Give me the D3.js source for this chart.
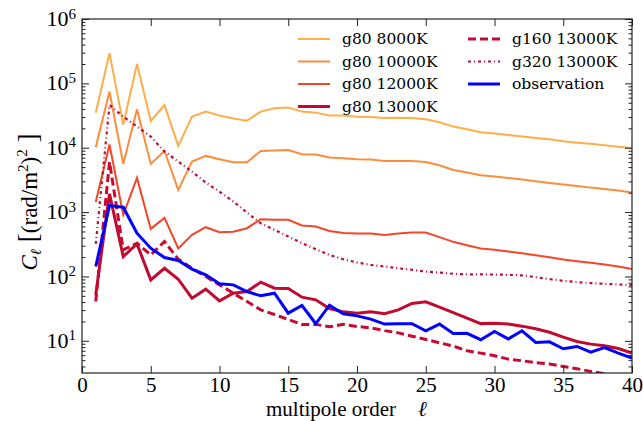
<!DOCTYPE html>
<html>
<head>
<meta charset="utf-8">
<script src="https://cdn.jsdelivr.net/npm/d3@7"></script>
<style>
  body { margin: 0; background: #fff; }
  text { fill: #000; }
</style>
</head>
<body>
<svg id="chart" width="643" height="421"></svg>
<script>
// multipole order l = 1..40
const ell = d3.range(1, 41);

const g80_8000K = [35000, 293000, 22900, 200000, 26000, 46000, 10700, 30400, 36400, 31600,
  28400, 26300, 36400, 41000, 42000, 36400, 35100, 31600, 31600, 30400,
  30000, 29000, 29300, 29000, 27700, 24900, 21300, 19400, 17400, 16600,
  15800, 14900, 14200, 13500, 12600, 12000, 11500, 10900, 10400, 9930];
const g80_10000K = [10200, 74500, 5600, 39600, 5600, 8900, 2210, 6100, 7460, 6630,
  5950, 5950, 8900, 9020, 9240, 7920, 7820, 7030, 6860, 6620,
  6540, 6240, 6240, 6240, 6020, 5340, 4520, 4110, 3740, 3570,
  3400, 3200, 3020, 2840, 2680, 2550, 2400, 2290, 2160, 2010];
const g80_12000K = [1440, 11200, 905, 3400, 548, 813, 272, 443, 582, 486,
  496, 562, 776, 757, 757, 618, 596, 510, 475, 464,
  464, 442, 464, 481, 481, 408, 345, 305, 271, 259,
  244, 230, 214, 199, 183, 173, 163, 153, 143, 130];
const g80_13000K = [51.8, 1920, 204, 321, 88.5, 134, 90.6, 46, 63.4, 41.8,
  55, 58.3, 81.5, 65.8, 65, 47.6, 43.3, 31.8, 28.2, 26.9,
  28.2, 26.3, 30.3, 38.0, 40.3, 33.3, 27.5, 22.5, 18.5, 18.8,
  18.3, 16.9, 15.4, 13.6, 11.4, 9.77, 8.88, 8.36, 7.60, 6.43];
const g160_13000K = [40.8, 6000, 259, 329, 216, 349, 185, 134, 99.7, 74,
  55, 40.8, 30.3, 25.6, 21.5, 18.0, 18.0, 16.5, 18.0, 16.7,
  15.9, 14.4, 13.3, 11.8, 10.5, 9.3, 8.3, 7.0, 6.44, 5.85,
  5.2, 4.9, 4.6, 4.35, 4.0, 3.68, 3.35, 3.08, 2.85, 2.6];
const g320_13000K = [320, 46200, 30400, 21300, 14900, 8710, 6100, 4260, 2870, 2080,
  1460, 984, 671, 530, 417, 329, 265, 216, 185, 165,
  151, 143, 134, 127, 119, 115, 110, 108, 108, 107,
  106, 104, 97.5, 90.8, 85.6, 81.6, 78.8, 76.9, 75.1, 73.4];
const observation = [143, 1260, 1190, 470, 275, 197, 177, 130, 106, 76.8,
  74, 58.3, 50, 55, 26.9, 35.4, 18.4, 35.8, 26.3, 24.4,
  21.7, 18.2, 18.4, 18.4, 14.3, 18.2, 13.0, 13.1, 10.4, 14.0,
  10.7, 14.3, 9.42, 9.64, 7.52, 8.17, 6.67, 7.87, 6.44, 5.38];

const xTicks = [0, 5, 10, 15, 20, 25, 30, 35, 40];
const yExponents = [1, 2, 3, 4, 5, 6];

const series = [
  {name: 'g80 8000K', values: g80_8000K, color: '#feae4a', width: 2, dash: null},
  {name: 'g80 10000K', values: g80_10000K, color: '#fd8c3c', width: 2, dash: null},
  {name: 'g80 12000K', values: g80_12000K, color: '#f4462a', width: 2, dash: null},
  {name: 'g80 13000K', values: g80_13000K, color: '#c00a30', width: 3, dash: null},
  {name: 'g160 13000K', values: g160_13000K, color: '#c80a30', width: 3, dash: '8,4'},
  {name: 'g320 13000K', values: g320_13000K, color: '#c80a30', width: 2.2, dash: '3,3,1,3'},
  {name: 'observation', values: observation, color: '#0000ff', width: 3, dash: null}
];

const margin = {top: 19, right: 11, bottom: 48, left: 82};
const width = 643 - margin.left - margin.right,
    height = 421 - margin.top - margin.bottom;

const svg = d3.select('#chart');
const g = svg.append('g').attr('transform', `translate(${margin.left},${margin.top})`);

const x = d3.scaleLinear().domain([0, 40]).range([0, width]);
const y = d3.scaleLog().domain([Math.pow(10, 0.5), 1e6]).range([height, 0]);

// minor log ticks
const minor = [];
for (let d = 0; d < 6; d++) {
  for (let k = 2; k <= 9; k++) {
    const v = k * Math.pow(10, d);
    if (v >= y.domain()[0] && v <= 1e6) minor.push(v);
  }
}
const majors = yExponents.map(e => Math.pow(10, e));

const serif = '"Liberation Serif", "Times New Roman", serif';

// data lines
g.append('clipPath').attr('id', 'clip')
  .append('rect').attr('width', width).attr('height', height);

const line = d3.line()
  .x((d, i) => x(ell[i]))
  .y(d => y(d));

g.append('g').attr('clip-path', 'url(#clip)')
  .selectAll('path')
  .data(series)
  .join('path')
  .attr('d', s => line(s.values))
  .attr('fill', 'none')
  .attr('stroke', s => s.color)
  .attr('stroke-width', s => s.width)
  .attr('stroke-dasharray', s => s.dash)
  .attr('stroke-linejoin', 'miter');

// axes, ticks pointing inward on all four sides
function styleAxis(sel) {
  sel.select('.domain').remove();
  sel.selectAll('line').attr('stroke', '#222');
}

g.append('g').attr('transform', `translate(0,${height})`)
  .call(d3.axisBottom(x).tickValues(xTicks).tickSize(-7).tickPadding(4))
  .call(styleAxis)
  .selectAll('text')
  .style('font-family', serif).style('font-size', '21px').attr('fill', '#000');

g.append('g')
  .call(d3.axisTop(x).tickValues(xTicks).tickSize(-7).tickFormat(''))
  .call(styleAxis);

const yLeft = g.append('g')
  .call(d3.axisLeft(y).tickValues(majors).tickSize(-7).tickPadding(6).tickFormat(''))
  .call(styleAxis);

yLeft.selectAll('.tick text')
  .style('font-family', serif).style('font-size', '22px').attr('fill', '#000')
  .attr('dy', '0.3em')
  .each(function(d) {
    const t = d3.select(this);
    t.append('tspan').text('10');
    t.append('tspan').attr('dy', '-0.5em').style('font-size', '15px').text(Math.round(Math.log10(d)));
  });

g.append('g')
  .call(d3.axisLeft(y).tickValues(minor).tickSize(-3.5).tickFormat(''))
  .call(styleAxis);

g.append('g').attr('transform', `translate(${width},0)`)
  .call(d3.axisRight(y).tickValues(majors).tickSize(-7).tickFormat(''))
  .call(styleAxis);

g.append('g').attr('transform', `translate(${width},0)`)
  .call(d3.axisRight(y).tickValues(minor).tickSize(-3.5).tickFormat(''))
  .call(styleAxis);

// frame
g.append('rect')
  .attr('width', width).attr('height', height)
  .attr('fill', 'none').attr('stroke', '#222').attr('stroke-width', 1.2);

// x label
const xl = svg.append('text')
  .attr('x', 266).attr('y', 416)
  .style('font-family', serif).style('font-size', '21px');
xl.append('tspan').text('multipole order');
xl.append('tspan').attr('dx', 22).style('font-style', 'italic').text('ℓ');

// y label
const yl = svg.append('text')
  .attr('transform', `translate(37,${margin.top + height / 2 + 6}) rotate(-90)`)
  .attr('text-anchor', 'middle')
  .style('font-family', serif).style('font-size', '23px');
yl.append('tspan').style('font-style', 'italic').text('C');
yl.append('tspan').style('font-style', 'italic').style('font-size', '15px').attr('dy', 4).text('ℓ');
yl.append('tspan').attr('dy', -4).style('font-size', '27px').text(' [');
yl.append('tspan').text('(rad/m');
yl.append('tspan').style('font-size', '15px').attr('dy', -9).text('2');
yl.append('tspan').attr('dy', 9).text(')');
yl.append('tspan').style('font-size', '15px').attr('dy', -10).text('2');
yl.append('tspan').attr('dy', 10).style('font-size', '27px').text(' ]');

// legend, two columns
const legendPos = [
  [298, 39], [298, 61.5], [298, 84], [298, 106.5],
  [468, 39], [468, 61.5], [468, 84]
];
const legend = svg.append('g')
  .selectAll('g')
  .data(series)
  .join('g')
  .attr('transform', (s, i) => `translate(${legendPos[i][0]},${legendPos[i][1]})`);

legend.append('line')
  .attr('x1', 0).attr('x2', 32)
  .attr('stroke', s => s.color)
  .attr('stroke-width', s => s.width)
  .attr('stroke-dasharray', s => s.dash);

legend.append('text')
  .attr('x', 44).attr('dy', '0.35em')
  .style('font-family', '"DejaVu Serif", serif').style('font-size', '15.5px')
  .text(s => s.name);
</script>
</body>
</html>
